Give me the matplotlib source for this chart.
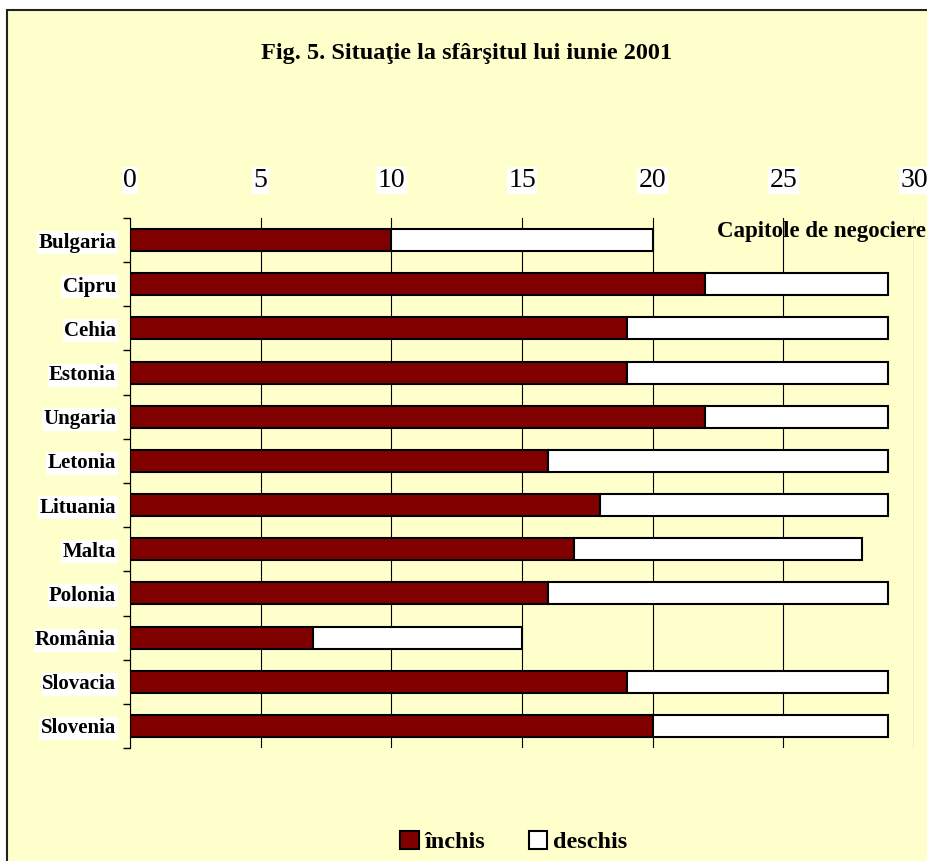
import matplotlib
matplotlib.use("Agg")
import matplotlib.pyplot as plt
from matplotlib.patches import Rectangle, Patch
import numpy as np

countries = ["Bulgaria", "Cipru", "Cehia", "Estonia", "Ungaria", "Letonia",
             "Lituania", "Malta", "Polonia", "România", "Slovacia", "Slovenia"]
inchis = [10, 22, 19, 19, 22, 16, 18, 17, 16, 7, 19, 20]
deschis = [10, 7, 10, 10, 7, 13, 11, 11, 13, 8, 10, 9]
xticks = [0, 5, 10, 15, 20, 25, 30]

plt.rcParams['font.family'] = ['Liberation Serif', 'DejaVu Serif']

W, H = 928, 861
fig = plt.figure(figsize=(W / 100, H / 100), dpi=100)
fig.patch.set_facecolor('white')
bg = "#FFFFCC"
fig.patches.append(Rectangle((7 / W, -0.05), 1.1, 1 - 10 / H + 0.05,
                             transform=fig.transFigure, facecolor=bg,
                             edgecolor='#222222', linewidth=1.5, zorder=-10))

ax = fig.add_axes([130 / W, 1 - 748 / H, (914 - 130) / W, (748 - 218) / H])
ax.set_facecolor('none')

y = np.arange(len(countries))
ax.barh(y, inchis, height=0.5, color='#800000', edgecolor='black',
        linewidth=1.5, zorder=3, label='închis')
ax.barh(y, deschis, left=inchis, height=0.5, color='white', edgecolor='black',
        linewidth=1.5, zorder=3, label='deschis')

ax.set_xlim(0, 30)
ax.set_ylim(len(countries) - 0.5, -0.5)
ax.xaxis.tick_top()
ax.set_xticks(xticks)
ax.set_xticklabels([str(v) for v in xticks])
ax.tick_params(axis='x', length=0, pad=18, labelsize=20)
for lbl in ax.get_xticklabels():
    lbl.set_bbox(dict(facecolor='white', edgecolor='none', pad=1))

ax.set_yticks(y)
ax.set_yticklabels(countries, fontweight='bold', fontsize=15)
ax.set_yticks(np.arange(len(countries) + 1) - 0.5, minor=True)
ax.tick_params(axis='y', which='major', length=0, pad=10)
ax.tick_params(axis='y', which='minor', length=5, direction='out', width=1)
for lbl in ax.get_yticklabels():
    lbl.set_bbox(dict(facecolor='white', edgecolor='none', pad=1))

ax.grid(axis='x', color='black', linewidth=0.8, zorder=0)
for s in ['top', 'right', 'bottom']:
    ax.spines[s].set_visible(False)
ax.spines['left'].set_linewidth(0.8)

fig.text(467 / W, 1 - 53 / H, "Fig. 5. Situaţie la sfârşitul lui iunie 2001",
         ha='center', va='center', fontsize=17.5, fontweight='bold')
fig.text(926 / W, 1 - 231 / H, "Capitole de negociere", ha='right',
         va='center', fontsize=16.5, fontweight='bold')

handles = [Patch(facecolor='#800000', edgecolor='black', linewidth=1.5, label='închis'),
           Patch(facecolor='white', edgecolor='black', linewidth=1.5, label='deschis')]
leg = fig.legend(handles=handles, loc='center', bbox_to_anchor=(514 / W, 1 - 842 / H),
                 ncol=2, frameon=False, prop={'weight': 'bold', 'size': 17.5},
                 handlelength=0.75, handleheight=0.75, handletextpad=0.25,
                 columnspacing=1.8, borderpad=0.1)

fig.savefig("out.png", dpi=100, facecolor=fig.get_facecolor())
